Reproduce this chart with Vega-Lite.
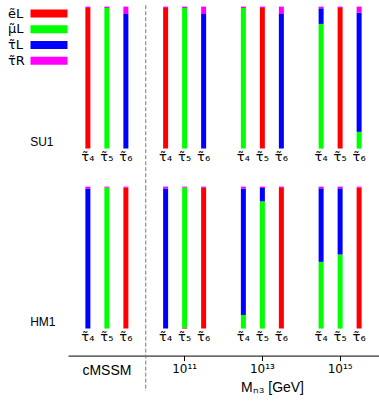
{
  "$schema": "https://vega.github.io/schema/vega-lite/v6.json",
  "padding": {"left": 3, "top": 4.6, "right": 0, "bottom": 0},
  "background": "white",
  "config": {"font": "Liberation Sans", "view": {"stroke": null}},
  "bounds": "flush",
  "spacing": 38,
  "datasets": {
    "bars": [
      {"model": "SU1", "group": "cMSSM", "stau": "τ̃₄", "sp": "eL", "frac": 0.99},
      {"model": "SU1", "group": "cMSSM", "stau": "τ̃₄", "sp": "tauR", "frac": 0.01},
      {"model": "SU1", "group": "cMSSM", "stau": "τ̃₅", "sp": "muL", "frac": 0.99},
      {"model": "SU1", "group": "cMSSM", "stau": "τ̃₅", "sp": "tauR", "frac": 0.01},
      {"model": "SU1", "group": "cMSSM", "stau": "τ̃₆", "sp": "tauL", "frac": 0.948},
      {"model": "SU1", "group": "cMSSM", "stau": "τ̃₆", "sp": "tauR", "frac": 0.052},
      {"model": "SU1", "group": "10¹¹", "stau": "τ̃₄", "sp": "eL", "frac": 0.99},
      {"model": "SU1", "group": "10¹¹", "stau": "τ̃₄", "sp": "tauR", "frac": 0.01},
      {"model": "SU1", "group": "10¹¹", "stau": "τ̃₅", "sp": "muL", "frac": 0.99},
      {"model": "SU1", "group": "10¹¹", "stau": "τ̃₅", "sp": "tauR", "frac": 0.01},
      {"model": "SU1", "group": "10¹¹", "stau": "τ̃₆", "sp": "tauL", "frac": 0.948},
      {"model": "SU1", "group": "10¹¹", "stau": "τ̃₆", "sp": "tauR", "frac": 0.052},
      {"model": "SU1", "group": "10¹³", "stau": "τ̃₄", "sp": "muL", "frac": 0.99},
      {"model": "SU1", "group": "10¹³", "stau": "τ̃₄", "sp": "tauR", "frac": 0.01},
      {"model": "SU1", "group": "10¹³", "stau": "τ̃₅", "sp": "eL", "frac": 0.99},
      {"model": "SU1", "group": "10¹³", "stau": "τ̃₅", "sp": "tauR", "frac": 0.01},
      {"model": "SU1", "group": "10¹³", "stau": "τ̃₆", "sp": "tauL", "frac": 0.948},
      {"model": "SU1", "group": "10¹³", "stau": "τ̃₆", "sp": "tauR", "frac": 0.052},
      {"model": "SU1", "group": "10¹⁵", "stau": "τ̃₄", "sp": "muL", "frac": 0.878},
      {"model": "SU1", "group": "10¹⁵", "stau": "τ̃₄", "sp": "tauL", "frac": 0.11},
      {"model": "SU1", "group": "10¹⁵", "stau": "τ̃₄", "sp": "tauR", "frac": 0.012},
      {"model": "SU1", "group": "10¹⁵", "stau": "τ̃₅", "sp": "eL", "frac": 0.99},
      {"model": "SU1", "group": "10¹⁵", "stau": "τ̃₅", "sp": "tauR", "frac": 0.01},
      {"model": "SU1", "group": "10¹⁵", "stau": "τ̃₆", "sp": "muL", "frac": 0.118},
      {"model": "SU1", "group": "10¹⁵", "stau": "τ̃₆", "sp": "tauL", "frac": 0.84},
      {"model": "SU1", "group": "10¹⁵", "stau": "τ̃₆", "sp": "tauR", "frac": 0.042},
      {"model": "HM1", "group": "cMSSM", "stau": "τ̃₄", "sp": "tauL", "frac": 0.986},
      {"model": "HM1", "group": "cMSSM", "stau": "τ̃₄", "sp": "tauR", "frac": 0.014},
      {"model": "HM1", "group": "cMSSM", "stau": "τ̃₅", "sp": "muL", "frac": 0.993},
      {"model": "HM1", "group": "cMSSM", "stau": "τ̃₅", "sp": "tauR", "frac": 0.007},
      {"model": "HM1", "group": "cMSSM", "stau": "τ̃₆", "sp": "eL", "frac": 0.992},
      {"model": "HM1", "group": "cMSSM", "stau": "τ̃₆", "sp": "tauR", "frac": 0.008},
      {"model": "HM1", "group": "10¹¹", "stau": "τ̃₄", "sp": "tauL", "frac": 0.986},
      {"model": "HM1", "group": "10¹¹", "stau": "τ̃₄", "sp": "tauR", "frac": 0.014},
      {"model": "HM1", "group": "10¹¹", "stau": "τ̃₅", "sp": "eL", "frac": 0.008},
      {"model": "HM1", "group": "10¹¹", "stau": "τ̃₅", "sp": "muL", "frac": 0.985},
      {"model": "HM1", "group": "10¹¹", "stau": "τ̃₅", "sp": "tauR", "frac": 0.007},
      {"model": "HM1", "group": "10¹¹", "stau": "τ̃₆", "sp": "eL", "frac": 0.99},
      {"model": "HM1", "group": "10¹¹", "stau": "τ̃₆", "sp": "tauL", "frac": 0.004},
      {"model": "HM1", "group": "10¹¹", "stau": "τ̃₆", "sp": "tauR", "frac": 0.006},
      {"model": "HM1", "group": "10¹³", "stau": "τ̃₄", "sp": "muL", "frac": 0.096},
      {"model": "HM1", "group": "10¹³", "stau": "τ̃₄", "sp": "tauL", "frac": 0.89},
      {"model": "HM1", "group": "10¹³", "stau": "τ̃₄", "sp": "tauR", "frac": 0.014},
      {"model": "HM1", "group": "10¹³", "stau": "τ̃₅", "sp": "muL", "frac": 0.896},
      {"model": "HM1", "group": "10¹³", "stau": "τ̃₅", "sp": "tauL", "frac": 0.094},
      {"model": "HM1", "group": "10¹³", "stau": "τ̃₅", "sp": "tauR", "frac": 0.01},
      {"model": "HM1", "group": "10¹³", "stau": "τ̃₆", "sp": "eL", "frac": 0.99},
      {"model": "HM1", "group": "10¹³", "stau": "τ̃₆", "sp": "tauR", "frac": 0.01},
      {"model": "HM1", "group": "10¹⁵", "stau": "τ̃₄", "sp": "muL", "frac": 0.47},
      {"model": "HM1", "group": "10¹⁵", "stau": "τ̃₄", "sp": "tauL", "frac": 0.518},
      {"model": "HM1", "group": "10¹⁵", "stau": "τ̃₄", "sp": "tauR", "frac": 0.012},
      {"model": "HM1", "group": "10¹⁵", "stau": "τ̃₅", "sp": "muL", "frac": 0.522},
      {"model": "HM1", "group": "10¹⁵", "stau": "τ̃₅", "sp": "tauL", "frac": 0.466},
      {"model": "HM1", "group": "10¹⁵", "stau": "τ̃₅", "sp": "tauR", "frac": 0.012},
      {"model": "HM1", "group": "10¹⁵", "stau": "τ̃₆", "sp": "eL", "frac": 0.992},
      {"model": "HM1", "group": "10¹⁵", "stau": "τ̃₆", "sp": "tauR", "frac": 0.008}
    ]
  },
  "vconcat": [
    {
      "width": 311,
      "height": 142,
      "layer": [
        {
          "data": {"name": "bars"},
          "transform": [{"filter": "datum.model === 'SU1'"}],
          "mark": {"type": "bar", "width": 5},
          "encoding": {
            "x": {"field": "group", "type": "nominal", "sort": null, "scale": {"domain": ["cMSSM", "10¹¹", "10¹³", "10¹⁵"], "paddingInner": 0, "paddingOuter": 0}, "axis": null},
            "xOffset": {"field": "stau", "type": "nominal", "sort": null, "scale": {"domain": ["τ̃₄", "τ̃₅", "τ̃₆"], "paddingInner": 0, "paddingOuter": 0.546}},
            "y": {"field": "frac", "type": "quantitative", "stack": "zero", "scale": {"domain": [0, 1], "nice": false},
              "axis": {"title": "SU1", "titleAngle": 0, "titleAlign": "right", "titleBaseline": "alphabetic", "titleX": -15, "titleY": 139, "titleFontSize": 12, "titleFontWeight": "normal", "titleColor": "black", "domain": false, "ticks": false, "labels": false, "grid": false}},
            "color": {"field": "sp", "type": "nominal", "scale": {"domain": ["eL", "muL", "tauL", "tauR"], "range": ["#ff0000", "#00ff00", "#0000ff", "#ff00ff"]},
              "legend": {"orient": "none", "legendX": -65, "legendY": 0.5, "padding": 0, "direction": "vertical", "title": null, "symbolType": "M5.25,-1H14.5V1H5.25Z", "symbolSize": 64, "symbolStrokeWidth": 0, "symbolOpacity": 1, "labelAlign": "left", "labelOffset": -8, "labelFont": "DejaVu Sans", "labelFontSize": 13, "labelColor": "black", "rowPadding": 1.7, "labelExpr": "{'eL': 'ẽL', 'muL': 'μ̃L', 'tauL': 'τ̃L', 'tauR': 'τ̃R'}[datum.label]"}},
            "order": {"field": "sp", "sort": "ascending"}
          }
        },
        {
          "data": {"values": [{"k": 1}]},
          "mark": {"type": "rule", "strokeDash": [4, 2], "color": "#777777", "strokeWidth": 1},
          "encoding": {
            "x": {"datum": "10¹¹", "type": "nominal", "bandPosition": 0},
            "y": {"datum": 1.01, "type": "quantitative"},
            "y2": {"datum": -0.27}
          }
        },
        {
          "data": {"name": "bars"},
          "transform": [{"filter": "datum.model === 'SU1'"}, {"aggregate": [{"op": "count", "as": "n"}], "groupby": ["group", "stau"]}],
          "mark": {"type": "text", "baseline": "top", "dy": 2, "font": "DejaVu Sans", "fontSize": 13, "color": "black"},
          "encoding": {
            "x": {"field": "group", "type": "nominal", "sort": null},
            "xOffset": {"field": "stau", "type": "nominal", "sort": null},
            "y": {"datum": 0, "type": "quantitative"},
            "text": {"field": "stau"}
          }
        }
      ]
    },
    {
      "width": 311,
      "height": 142,
      "layer": [
        {
          "data": {"name": "bars"},
          "transform": [{"filter": "datum.model === 'HM1'"}],
          "mark": {"type": "bar", "width": 5},
          "encoding": {
            "x": {"field": "group", "type": "nominal", "sort": null, "scale": {"domain": ["cMSSM", "10¹¹", "10¹³", "10¹⁵"], "paddingInner": 0, "paddingOuter": 0},
              "axis": {"orient": "bottom", "offset": 27, "title": "Mₙ₃ [GeV]", "titleX": 204, "titleFontSize": 14, "titleFontWeight": "normal", "titleColor": "black", "titlePadding": 3, "labelFont": {"condition": {"test": "datum.value === 'cMSSM'", "value": "Liberation Sans"}, "value": "DejaVu Sans"}, "labelFontSize": {"condition": {"test": "datum.value === 'cMSSM'", "value": 14}, "value": 12}, "labelColor": "black", "labelAngle": 0, "labelPadding": 3, "tickSize": 5, "tickColor": "black", "domainColor": "black", "tickOpacity": {"condition": {"test": "datum.value === 'cMSSM'", "value": 0}, "value": 1}, "grid": false}},
            "xOffset": {"field": "stau", "type": "nominal", "sort": null, "scale": {"domain": ["τ̃₄", "τ̃₅", "τ̃₆"], "paddingInner": 0, "paddingOuter": 0.546}},
            "y": {"field": "frac", "type": "quantitative", "stack": "zero", "scale": {"domain": [0, 1], "nice": false},
              "axis": {"title": "HM1", "titleAngle": 0, "titleAlign": "right", "titleBaseline": "alphabetic", "titleX": -13, "titleY": 139, "titleFontSize": 12, "titleFontWeight": "normal", "titleColor": "black", "domain": false, "ticks": false, "labels": false, "grid": false}},
            "color": {"field": "sp", "type": "nominal", "scale": {"domain": ["eL", "muL", "tauL", "tauR"], "range": ["#ff0000", "#00ff00", "#0000ff", "#ff00ff"]},
              "legend": {"orient": "none", "legendX": -65, "legendY": 0.5, "padding": 0, "direction": "vertical", "title": null, "symbolType": "M5.25,-1H14.5V1H5.25Z", "symbolSize": 64, "symbolStrokeWidth": 0, "symbolOpacity": 1, "labelAlign": "left", "labelOffset": -8, "labelFont": "DejaVu Sans", "labelFontSize": 13, "labelColor": "black", "rowPadding": 1.7, "labelExpr": "{'eL': 'ẽL', 'muL': 'μ̃L', 'tauL': 'τ̃L', 'tauR': 'τ̃R'}[datum.label]"}},
            "order": {"field": "sp", "sort": "ascending"}
          }
        },
        {
          "data": {"values": [{"k": 1}]},
          "mark": {"type": "rule", "strokeDash": [4, 2], "color": "#777777", "strokeWidth": 1},
          "encoding": {
            "x": {"datum": "10¹¹", "type": "nominal", "bandPosition": 0},
            "y": {"datum": 1.0, "type": "quantitative"},
            "y2": {"datum": -0.44}
          }
        },
        {
          "data": {"name": "bars"},
          "transform": [{"filter": "datum.model === 'HM1'"}, {"aggregate": [{"op": "count", "as": "n"}], "groupby": ["group", "stau"]}],
          "mark": {"type": "text", "baseline": "top", "dy": 2, "font": "DejaVu Sans", "fontSize": 13, "color": "black"},
          "encoding": {
            "x": {"field": "group", "type": "nominal", "sort": null},
            "xOffset": {"field": "stau", "type": "nominal", "sort": null},
            "y": {"datum": 0, "type": "quantitative"},
            "text": {"field": "stau"}
          }
        }
      ]
    }
  ]
}
